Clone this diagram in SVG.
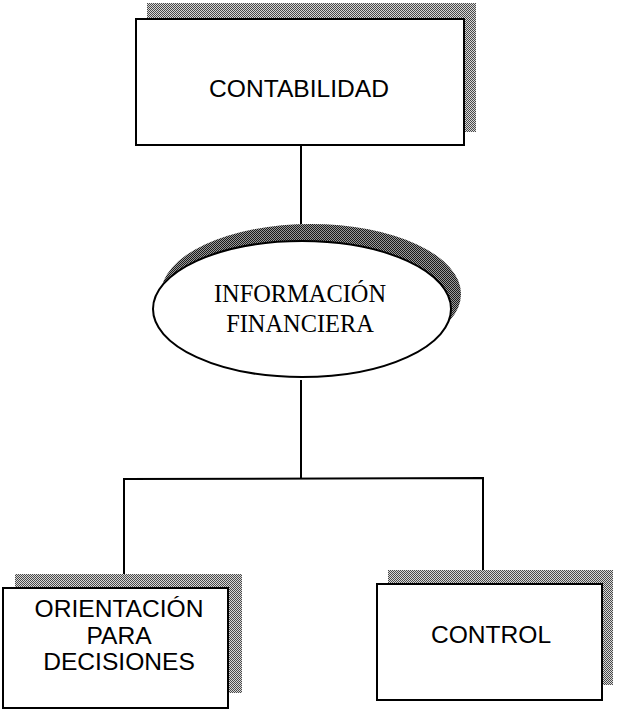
<svg xmlns="http://www.w3.org/2000/svg" width="617" height="710" viewBox="0 0 617 710">
  <defs>
    <!-- dithered grey used for the drop shadows -->
    <pattern id="dither" width="2" height="2" patternUnits="userSpaceOnUse">
      <rect width="2" height="2" fill="#d8d8d8"/>
      <rect width="1" height="1" fill="#4a4a4a"/>
      <rect x="1" y="1" width="1" height="1" fill="#4a4a4a"/>
    </pattern>
    <pattern id="ditherDark" width="2" height="2" patternUnits="userSpaceOnUse">
      <rect width="2" height="2" fill="#9a9a9a"/>
      <rect width="1" height="1" fill="#1a1a1a"/>
      <rect x="1" y="1" width="1" height="1" fill="#1a1a1a"/>
    </pattern>
  </defs>
  <style>
    .shadow { fill: url(#dither); stroke: none; }
    .shadowDark { fill: url(#ditherDark); stroke: none; }
    .box { fill: #ffffff; stroke: #000000; stroke-width: 2; }
    .wire { fill: none; stroke: #000000; stroke-width: 2; }
    .sans { font-family: "Liberation Sans", Arial, sans-serif; font-size: 24.6px; fill: #000000; text-anchor: middle; }
    .serif { font-family: "Liberation Serif", "Times New Roman", serif; font-size: 24.4px; fill: #000000; text-anchor: middle; }
  </style>

  <rect width="617" height="710" fill="#ffffff"/>

  <!-- connectors -->
  <g id="connectors">
    <line class="wire" x1="301" y1="145" x2="301" y2="224"/>
    <line class="wire" x1="301" y1="380" x2="301" y2="479"/>
    <polyline class="wire" points="124,575 124,479 483,478 483,571"/>
  </g>

  <g id="contabilidad">
    <rect class="shadow" x="147" y="3" width="329" height="129"/>
    <rect class="box" x="136" y="19" width="328" height="126"/>
    <text class="sans" x="299" y="97">CONTABILIDAD</text>
  </g>

  <g id="informacion-financiera">
    <ellipse class="shadowDark" cx="311" cy="294" rx="150" ry="70"/>
    <ellipse class="box" cx="302" cy="309" rx="149" ry="68"/>
    <text class="serif" x="300" y="302">INFORMACIÓN</text>
    <text class="serif" x="300" y="332">FINANCIERA</text>
  </g>

  <g id="orientacion">
    <rect class="shadow" x="15" y="574" width="227" height="119"/>
    <rect class="box" x="3" y="588" width="225" height="120"/>
    <text class="sans" x="119" y="617">ORIENTACIÓN</text>
    <text class="sans" x="119" y="644">PARA</text>
    <text class="sans" x="119" y="670">DECISIONES</text>
  </g>

  <g id="control">
    <rect class="shadow" x="388" y="570" width="225" height="115"/>
    <rect class="box" x="377" y="584" width="225" height="116"/>
    <text class="sans" x="491" y="643">CONTROL</text>
  </g>
</svg>
